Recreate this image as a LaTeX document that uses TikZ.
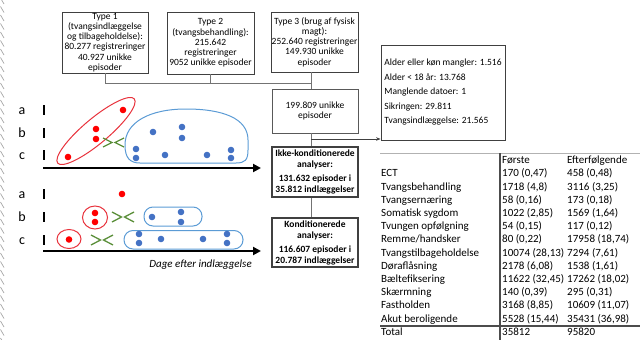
\documentclass[tikz,border=0pt]{standalone}
\usepackage{fontspec}
\setmainfont{Carlito}
\usetikzlibrary{arrows.meta}
\definecolor{dotred}{HTML}{FF0000}
\definecolor{linered}{HTML}{E8323C}
\definecolor{dotblue}{HTML}{4472C4}
\definecolor{lineblue}{HTML}{5B9BD5}
\definecolor{xgreen}{HTML}{5B8F3A}
\newcommand\tabrow[4]{%
  \node[cell] (ra#1) at (381,{161+13.2*#1}) {#2};
  \node[cell] (rb#1) at (502,{161+13.2*#1}) {#3};
  \node[cell] (rc#1) at (567,{161+13.2*#1}) {#4};}
\begin{document}
\begin{tikzpicture}[x=1pt,y=-1pt,
  box/.style={draw=black!75, line width=0.8pt, align=center, inner sep=0.5pt,
    font=\fontsize{9.5}{10.2}\selectfont},
  bbox/.style={box, line width=1.4pt, font=\bfseries\fontsize{9.5}{11}\selectfont},
  conn/.style={draw=black!55, line width=0.8pt},
  lab/.style={font=\fontsize{14}{14}\selectfont, anchor=base, inner sep=0pt},
  tickmark/.style={line width=1.1pt},
  cell/.style={anchor=west, inner sep=0pt, text height=8pt, text depth=2.5pt,
    font=\fontsize{11}{12}\selectfont},
  redline/.style={draw=linered, line width=1pt},
  blueline/.style={draw=lineblue, line width=1pt},
  greenmark/.style={draw=xgreen, line width=1.3pt},
  axis/.style={line width=2.2pt, -{Triangle[length=8pt,width=8pt]}},
]
\useasboundingbox (0,0) rectangle (640,340);
\clip (0,0) rectangle (640,340);

% torn left edge
\foreach \k in {0,...,40}
  \draw[black!35, line width=0.7pt] (0.5,{\k*8.5-2}) -- (4,{\k*8.5+4});

% flowchart
\node[box, minimum width=86pt, minimum height=61pt] (t1) at (105,42.5)
  {Type 1\\(tvangsindlæggelse\\og tilbageholdelse):\\80.277 registreringer\\40.927 unikke\\episoder};
\node[box, minimum width=87pt, minimum height=62pt] (t2) at (210.5,43)
  {Type 2\\(tvangsbehandling):\\215.642\\registreringer\\9052 unikke episoder};
\node[box, minimum width=87pt, minimum height=60pt] (t3) at (314.5,42)
  {Type 3 (brug af fysisk\\magt):\\252.640 registreringer\\149.930 unikke\\episoder};
\node[box, draw=black!65, minimum width=86pt, minimum height=44pt] (u) at (315,111)
  {199.809 unikke\\episoder};
\node[bbox, minimum width=86pt, minimum height=50pt] (ik) at (315,172)
  {Ikke-konditionerede\\analyser:\\[3pt]131.632 episoder i\\35.812 indlæggelser};
\node[bbox, minimum width=86pt, minimum height=49pt] (kd) at (315,242.5)
  {Konditionerede\\analyser:\\[3pt]116.607 episoder i\\20.787 indlæggelser};
\node[box, minimum width=124pt, minimum height=95pt, align=left,
  inner sep=2pt, font=\fontsize{9.5}{14.5}\selectfont] (ex) at (443,92.5)
  {Alder eller køn mangler: 1.516\\Alder < 18 år: 13.768\\Manglende datoer: 1\\Sikringen: 29.811\\Tvangsindlæggelse: 21.565};

\coordinate (j) at (311,83);
\coordinate (br) at (311,139);
\draw[conn] (t1.south) |- (j);
\draw[conn] (t2.south) -- (t2.south |- j);
\draw[conn] (t3.south -| j) -- (u.north -| j);
\draw[conn] (u.south -| j) -- (ik.north -| j);
\draw[conn, draw=black!75, -{Stealth[length=4.5pt,width=3.5pt]}] (br) -- (br -| ex.west);
\draw[conn] (ik.south -| j) -- (kd.north -| j);

% table
\draw[black!30, line width=0.6pt] (380,153) -- (640,153);
\draw[black!70, line width=1.1pt] (380,326) -- (640,326);
\draw[black!70, line width=1.3pt] (500,153) -- (500,340);
\tabrow{0}{}{Første}{Efterfølgende}
\tabrow{1}{ECT}{170 (0,47)}{458 (0,48)}
\tabrow{2}{Tvangsbehandling}{1718 (4,8)}{3116 (3,25)}
\tabrow{3}{Tvangsernæring}{58 (0,16)}{173 (0,18)}
\tabrow{4}{Somatisk sygdom}{1022 (2,85)}{1569 (1,64)}
\tabrow{5}{Tvungen opfølgning}{54 (0,15)}{117 (0,12)}
\tabrow{6}{Remme/handsker}{80 (0,22)}{17958 (18,74)}
\tabrow{7}{Tvangstilbageholdelse}{10074 (28,13)}{7294 (7,61)}
\tabrow{8}{Døraflåsning}{2178 (6,08)}{1538 (1,61)}
\tabrow{9}{Bæltefiksering}{11622 (32,45)}{17262 (18,02)}
\tabrow{10}{Skærmning}{140 (0,39)}{295 (0,31)}
\tabrow{11}{Fastholden}{3168 (8,85)}{10609 (11,07)}
\tabrow{12}{Akut beroligende}{5528 (15,44)}{35431 (36,98)}
\tabrow{13}{Total}{35812}{95820}

% row labels and ticks
\node[lab] (la1) at (22,114) {a};
\node[lab] (lb1) at (22,137) {b};
\node[lab] (lc1) at (22,159) {c};
\node[lab] (la2) at (22,198) {a};
\node[lab] (lb2) at (22,221) {b};
\node[lab] (lc2) at (22,244) {c};
\foreach \yy in {110,133,155,194,217,240}
  \draw[tickmark] (44,\yy-5) -- (44,\yy+5);

% axes
\coordinate (ax1s) at (43,168); \coordinate (ax1e) at (261,168);
\coordinate (ax2s) at (43,251); \coordinate (ax2e) at (261,251);
\draw[axis] (ax1s) -- (ax1e);
\draw[axis] (ax2s) -- (ax2e);
\node[anchor=east, inner sep=0pt, font=\itshape\fontsize{11}{12}\selectfont] (dage) at (252,265)
  {Dage efter indlæggelse};

% top scenario
\draw[redline, rotate around={40:(96,131)}] (96,131) ellipse [x radius=50, y radius=12.5];
\foreach \p in {(123,110),(96,129),(96,139),(68,157)}
  \fill[dotred] \p circle (3.3);
\draw[greenmark] (103,138) -- (112,142.5) -- (103,147);
\draw[greenmark] (124,138) -- (115,142.5) -- (124,147);
\draw[blueline] (140,163) -- (236,163) .. controls (245,163) and (248,160) .. (248,150)
  -- (248,140) .. controls (248,118) and (222,109) .. (186,109)
  .. controls (150,109) and (125,122) .. (125,145)
  .. controls (125,158) and (130,163) .. (140,163) -- cycle;
\foreach \p in {(153,132),(182,127),(182,138),(136,149),(136,158),(165,155),(207,155),(231,150),(231,158)}
  \fill[dotblue] \p circle (3.3);

% bottom scenario
\fill[dotred] (122,194) circle (3.3);
\draw[redline] (95,217.5) ellipse [x radius=12.5, y radius=11.5];
\fill[dotred] (95,213) circle (3.3);
\fill[dotred] (95,222) circle (3.3);
\draw[redline] (69,239) ellipse [x radius=12, y radius=9.5];
\fill[dotred] (69,239.5) circle (3.3);
\draw[greenmark] (112,212) -- (121.5,217) -- (112,222);
\draw[greenmark] (134,212) -- (124.5,217) -- (134,222);
\draw[greenmark] (91,235) -- (100.5,240) -- (91,245);
\draw[greenmark] (113,235) -- (103.5,240) -- (113,245);
\draw[blueline, rounded corners=9pt] (144,207) rectangle (202,226);
\draw[blueline, rounded corners=9pt] (124,230.5) rectangle (243,249);
\foreach \p in {(152,217),(181,212),(181,222),(139,234),(139,243),(161,239),(203,239),(227,234),(227,243)}
  \fill[dotblue] \p circle (3.3);
\end{tikzpicture}
\end{document}
